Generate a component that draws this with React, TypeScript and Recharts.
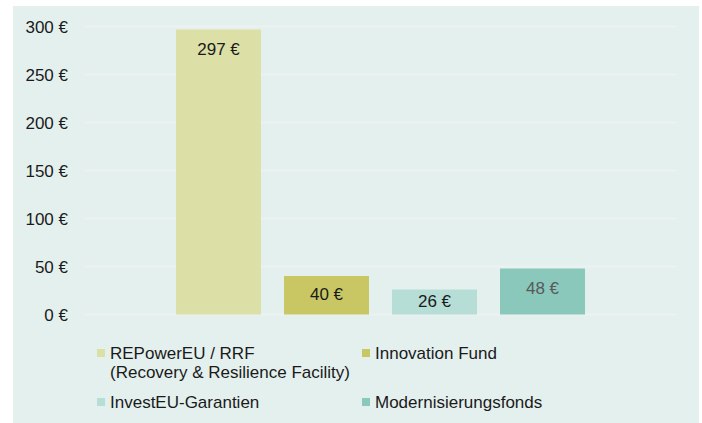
import React from 'react';
import { BarChart, Bar, XAxis, YAxis, CartesianGrid, Legend, LabelList } from 'recharts';

const seriesKeys = ['repower', 'innovation', 'investeu', 'modern'];
const seriesNames = [
  'REPowerEU / RRF\n(Recovery & Resilience Facility)',
  'Innovation Fund',
  'InvestEU-Garantien',
  'Modernisierungsfonds',
];
const seriesValues = [297, 40, 26, 48];
const seriesColors = ['#dcdfa6', '#c8c763', '#b6ddd6', '#8ac8bc'];
const labelColors = ['#1a1a1a', '#1a1a1a', '#1a1a1a', '#595959'];
const yTicks = [0, 50, 100, 150, 200, 250, 300];

const data = [
  seriesKeys.reduce((row: any, k, i) => {
    row[k] = seriesValues[i];
    return row;
  }, { name: 'Finanzierung' } as any),
];

const FONT = '"Liberation Sans", Arial, sans-serif';

const makeLabel = (color: string) => (props: any) => {
  const { x, y, width, height, value } = props;
  const cy = Math.min(y + 20, y + height / 2 - 1);
  return (
    <text
      x={x + width / 2}
      y={cy}
      textAnchor="middle"
      dominantBaseline="central"
      fill={color}
      fontSize={17}
      fontFamily={FONT}
    >
      {`${value} €`}
    </text>
  );
};

const renderLegend = () => (
  <div style={{ position: 'relative', width: 686, height: 90, fontFamily: FONT, fontSize: 17, color: '#1a1a1a' }}>
    {seriesKeys.map((k, i) => {
      const col = i % 2;
      const row = Math.floor(i / 2);
      return (
        <div
          key={k}
          style={{ position: 'absolute', left: col === 0 ? 84 : 349, top: row === 0 ? 0 : 49, display: 'flex', alignItems: 'flex-start' }}
        >
          <span style={{ display: 'inline-block', width: 8, height: 8, background: seriesColors[i], marginTop: 5, marginRight: 5 }} />
          <span style={{ lineHeight: '19px', whiteSpace: 'pre' }}>{seriesNames[i]}</span>
        </div>
      );
    })}
  </div>
);

export default function App() {
  return (
    <div style={{ position: 'absolute', left: 0, top: 0, width: 702, height: 423, background: '#ffffff' }}>
      <div style={{ position: 'absolute', left: 13, top: 6, width: 686, height: 417, background: '#e4f0ee' }}>
        <BarChart
          width={686}
          height={417}
          data={data}
          margin={{ top: 20.5, right: 22, left: 0, bottom: 108.5 }}
          barSize={85}
          barGap={23}
        >
          <CartesianGrid vertical={false} stroke="#eef1f1" strokeWidth={2} />
          <XAxis dataKey="name" hide />
          <YAxis
            width={71}
            domain={[0, 300]}
            ticks={yTicks}
            axisLine={false}
            tickLine={false}
            tickSize={0}
            tickMargin={16}
            tick={{ fill: '#1a1a1a', fontSize: 17, fontFamily: FONT }}
            tickFormatter={(v: number) => `${v} €`}
          />
          <Legend
            layout="vertical"
            align="center"
            verticalAlign="middle"
            content={renderLegend}
            wrapperStyle={{ top: 337.5, left: 0, width: 686, height: 90 }}
          />
          {seriesKeys.map((k, i) => (
            <Bar key={k} dataKey={k} name={seriesNames[i]} fill={seriesColors[i]} isAnimationActive={false}>
              <LabelList dataKey={k} content={makeLabel(labelColors[i])} />
            </Bar>
          ))}
        </BarChart>
      </div>
    </div>
  );
}
